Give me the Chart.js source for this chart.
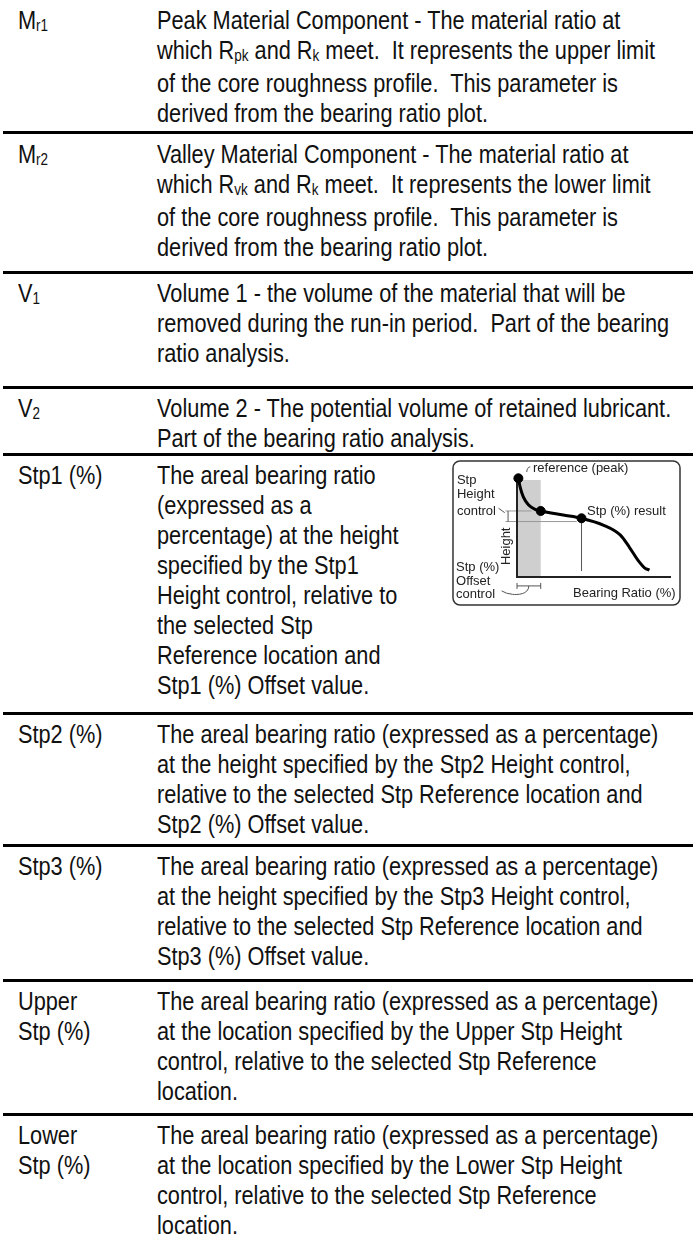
<!DOCTYPE html>
<html>
<head>
<meta charset="utf-8">
<script src="https://cdn.jsdelivr.net/npm/chart.js@4.4.0/dist/chart.umd.min.js"></script>
<style>
html, body { margin: 0; padding: 0; background: #fff; }
body {
  width: 696px; height: 1247px; position: relative; overflow: hidden;
  font-family: "Liberation Sans", Arial, sans-serif;
  font-size: 26.5px; line-height: 30px; color: #111;
}
.sep { position: absolute; left: 3px; width: 690px; height: 3px; background: #000; }
/* narrow face is not installed: squeeze the regular face to Arial Narrow widths */
.lab, .desc { position: absolute; white-space: pre; transform: scaleX(0.82); transform-origin: 0 0; }
.lab { left: 18px; }
.desc { left: 157px; }
.sb { font-size: 0.62em; position: relative; top: 0.12em; }
#box { position: absolute; left: 452px; top: 460px; width: 229px; height: 146px; }
</style>
</head>
<body>

<div class="lab" style="top:5px">M<span class="sb">r1</span></div>
<div class="desc" style="top:5px">Peak Material Component - The material ratio at
which R<span class="sb">pk</span> and R<span class="sb">k</span> meet.  It represents the upper limit
of the core roughness profile.  This parameter is
derived from the bearing ratio plot.</div>
<div class="sep" style="top:131px"></div>

<div class="lab" style="top:139px">M<span class="sb">r2</span></div>
<div class="desc" style="top:139px">Valley Material Component - The material ratio at
which R<span class="sb">vk</span> and R<span class="sb">k</span> meet.  It represents the lower limit
of the core roughness profile.  This parameter is
derived from the bearing ratio plot.</div>
<div class="sep" style="top:271px"></div>

<div class="lab" style="top:278px">V<span class="sb">1</span></div>
<div class="desc" style="top:278px">Volume 1 - the volume of the material that will be
removed during the run-in period.  Part of the bearing
ratio analysis.</div>
<div class="sep" style="top:386px"></div>

<div class="lab" style="top:393px">V<span class="sb">2</span></div>
<div class="desc" style="top:393px">Volume 2 - The potential volume of retained lubricant.
Part of the bearing ratio analysis.</div>
<div class="sep" style="top:453px"></div>

<div class="lab" style="top:460px">Stp1 (%)</div>
<div class="desc" style="top:460px">The areal bearing ratio
(expressed as a
percentage) at the height
specified by the Stp1
Height control, relative to
the selected Stp
Reference location and
Stp1 (%) Offset value.</div>
<div id="box"><canvas id="bearingChart"></canvas></div>
<div class="sep" style="top:712px"></div>

<div class="lab" style="top:719px">Stp2 (%)</div>
<div class="desc" style="top:719px">The areal bearing ratio (expressed as a percentage)
at the height specified by the Stp2 Height control,
relative to the selected Stp Reference location and
Stp2 (%) Offset value.</div>
<div class="sep" style="top:844px"></div>

<div class="lab" style="top:851px">Stp3 (%)</div>
<div class="desc" style="top:851px">The areal bearing ratio (expressed as a percentage)
at the height specified by the Stp3 Height control,
relative to the selected Stp Reference location and
Stp3 (%) Offset value.</div>
<div class="sep" style="top:979px"></div>

<div class="lab" style="top:986px">Upper
Stp (%)</div>
<div class="desc" style="top:986px">The areal bearing ratio (expressed as a percentage)
at the location specified by the Upper Stp Height
control, relative to the selected Stp Reference
location.</div>
<div class="sep" style="top:1113px"></div>

<div class="lab" style="top:1120px">Lower
Stp (%)</div>
<div class="desc" style="top:1120px">The areal bearing ratio (expressed as a percentage)
at the location specified by the Lower Stp Height
control, relative to the selected Stp Reference
location.</div>

<script>
// bearing ratio curve (x = bearing ratio %, y = height %)
const curveX = [0.9, 2, 4.1, 7.4, 11.7, 15.4, 30, 41.9, 56, 67, 73, 78.5, 83, 86];
const curveY = [99.7, 91, 81, 73, 68.4, 66.7, 62.6, 59.3, 52.5, 42.5, 30, 17, 9, 7];

// reference (peak), offset point, Stp result
const markerX = [0.9, 15.4, 41.9];
const markerY = [99.7, 66.7, 59.3];

// Stp (%) offset range and Stp height control range
const offsetRange = [0, 15.4];
const heightRange = [56, 66.7];

const curvePts = curveX.map((x, i) => ({ x: x, y: curveY[i] }));
const markerPts = markerX.map((x, i) => ({ x: x, y: markerY[i] }));

// callout texts, anchored in data units
const notes = [
  { text: 'reference (peak)', x: 10.4, y: 110 },
  { text: 'Stp', x: -39, y: 98 },
  { text: 'Height', x: -39, y: 83 },
  { text: 'control', x: -39, y: 66.7 },
  { text: 'Stp (%) result', x: 45.5, y: 66.7 },
  { text: 'Stp (%)', x: -39.6, y: 10 },
  { text: 'Offset', x: -39.6, y: -4 },
  { text: 'control', x: -39.6, y: -18 },
  { text: 'Bearing Ratio (%)', x: 36.4, y: -17 }
];

const bearingPlot = {
  id: 'bearingPlot',
  beforeDatasetsDraw(chart) {
    const { ctx, scales: { x, y } } = chart;
    const X = v => x.getPixelForValue(v);
    const Y = v => y.getPixelForValue(v);
    const w = chart.width, h = chart.height;
    ctx.save();
    // frame
    ctx.strokeStyle = '#333';
    ctx.lineWidth = 1.5;
    ctx.beginPath();
    ctx.roundRect(1, 1, w - 2, h - 2, 7);
    ctx.stroke();

    // offset band
    ctx.fillStyle = '#cfcfcf';
    ctx.fillRect(X(offsetRange[0]), Y(98), X(offsetRange[1]) - X(offsetRange[0]), Y(0) - Y(98));

    // thin guides
    ctx.strokeStyle = '#999';
    ctx.lineWidth = 1;
    ctx.beginPath();
    ctx.moveTo(X(-7.5), Y(heightRange[1])); ctx.lineTo(X(9.5), Y(heightRange[1]));
    ctx.moveTo(X(-7.5), Y(heightRange[0])); ctx.lineTo(X(38.8), Y(heightRange[0]));
    ctx.stroke();
    ctx.strokeStyle = '#555';
    ctx.beginPath();
    ctx.moveTo(X(markerX[2]), Y(markerY[2])); ctx.lineTo(X(markerX[2]), Y(6));
    // height bracket
    ctx.moveTo(X(-5.8), Y(heightRange[1])); ctx.lineTo(X(-5.8), Y(heightRange[0]));
    ctx.moveTo(X(-12), Y(69.5)); ctx.lineTo(X(-8), Y(65));
    // offset bracket
    const by = Y(-9);
    ctx.moveTo(X(offsetRange[0]), by); ctx.lineTo(X(offsetRange[1]), by);
    ctx.moveTo(X(offsetRange[0]), by - 3); ctx.lineTo(X(offsetRange[0]), by + 3);
    ctx.moveTo(X(offsetRange[1]), by - 3); ctx.lineTo(X(offsetRange[1]), by + 3);
    ctx.moveTo(X(7.7), by);
    ctx.bezierCurveTo(X(7.5), Y(-18), X(0), Y(-18), X(-3), Y(-17.5));
    ctx.quadraticCurveTo(X(-7), Y(-17), X(-10), Y(-14));
    // peak hook
    ctx.moveTo(X(6.3), Y(106));
    ctx.quadraticCurveTo(X(6.6), Y(111), X(8.6), Y(111.3));
    ctx.stroke();

    // axes
    ctx.strokeStyle = '#222';
    ctx.lineWidth = 2;
    ctx.beginPath();
    ctx.moveTo(X(0), Y(100)); ctx.lineTo(X(0), Y(0)); ctx.lineTo(X(100), Y(0));
    ctx.stroke();
    ctx.restore();
  },
  afterDraw(chart) {
    const { ctx, scales: { x, y } } = chart;
    ctx.save();
    ctx.fillStyle = '#222';
    ctx.font = '13px "Liberation Sans", Arial, sans-serif';
    ctx.textBaseline = 'middle';
    ctx.textAlign = 'left';
    notes.forEach(n => ctx.fillText(n.text, x.getPixelForValue(n.x), y.getPixelForValue(n.y)));
    ctx.translate(x.getPixelForValue(-7.1), y.getPixelForValue(31));
    ctx.rotate(-Math.PI / 2);
    ctx.textAlign = 'center';
    ctx.fillText('Height', 0, 0);
    ctx.restore();
  }
};

new Chart(document.getElementById('bearingChart'), {
  type: 'scatter',
  data: {
    datasets: [
      { data: curvePts, showLine: true, borderColor: '#000', borderWidth: 3,
        pointRadius: 0, cubicInterpolationMode: 'monotone', clip: false, order: 2 },
      { data: markerPts, pointRadius: 4.5, backgroundColor: '#000', borderColor: '#000',
        clip: false, order: 1 }
    ]
  },
  options: {
    animation: false,
    responsive: true,
    maintainAspectRatio: false,
    events: [],
    layout: { padding: { left: 65, right: 10, top: 18, bottom: 29 } },
    scales: {
      x: { type: 'linear', min: 0, max: 100, display: false },
      y: { type: 'linear', min: 0, max: 100, display: false }
    },
    plugins: { legend: { display: false }, tooltip: { enabled: false } }
  },
  plugins: [bearingPlot]
});
</script>
</body>
</html>
